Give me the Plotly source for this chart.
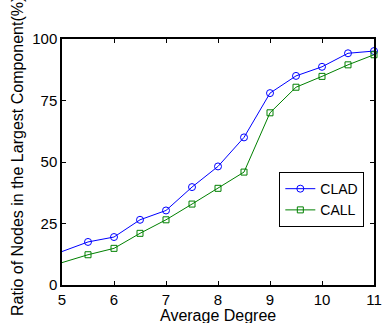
import plotly.graph_objects as go

degree = [5, 5.5, 6, 6.5, 7, 7.5, 8, 8.5, 9, 9.5, 10, 10.5, 11]
clad = [13.6, 17.5, 19.5, 26.5, 30.3, 39.8, 48.2, 60.0, 78.0, 85.0, 88.7, 94.2, 95.1]
call = [9.1, 12.3, 14.9, 21.0, 26.5, 32.9, 39.3, 45.9, 70.0, 80.4, 84.8, 89.5, 93.6]
x_ticks = [5, 6, 7, 8, 9, 10, 11]
y_ticks = [0, 25, 50, 75, 100]

fig = go.Figure()
fig.add_trace(go.Scatter(
    x=degree[1:], y=clad[1:], mode="lines+markers", name="CLAD",
    line=dict(color="#0000FF", width=1),
    marker=dict(symbol="circle-open", size=7, color="#0000FF", line=dict(width=1)),
    cliponaxis=False, showlegend=True,
))
fig.add_trace(go.Scatter(
    x=degree[1:], y=call[1:], mode="lines+markers", name="CALL",
    line=dict(color="#008000", width=1),
    marker=dict(symbol="square-open", size=6, color="#008000", line=dict(width=1)),
    cliponaxis=False, showlegend=True,
))
# segments from x=5 (first point drawn without marker)
fig.add_trace(go.Scatter(x=degree[:2], y=clad[:2], mode="lines",
                         line=dict(color="#0000FF", width=1), showlegend=False))
fig.add_trace(go.Scatter(x=degree[:2], y=call[:2], mode="lines",
                         line=dict(color="#008000", width=1), showlegend=False))

axis_common = dict(
    showgrid=False, zeroline=False, showline=True, linecolor="black", linewidth=1.5,
    mirror="ticks", ticks="inside", ticklen=4, tickwidth=1, tickcolor="black",
    tickfont=dict(family="Liberation Sans, Arial", size=15, color="black"),
)

fig.update_xaxes(range=[5, 11], tickvals=x_ticks, ticktext=[str(v) for v in x_ticks],
                 **axis_common)
fig.update_yaxes(range=[0, 100], tickvals=y_ticks, ticktext=[str(v) for v in y_ticks],
                 **axis_common)

fig.update_layout(
    width=389, height=323,
    margin=dict(l=62, r=7, t=39, b=38),
    paper_bgcolor="white", plot_bgcolor="white",
    font=dict(family="Liberation Sans, Arial", size=15, color="black"),
    legend=dict(x=0.969, y=0.459, xanchor="right", yanchor="top",
                bgcolor="white", bordercolor="black", borderwidth=1,
                font=dict(size=14), tracegroupgap=0, itemwidth=30),
    annotations=[
        dict(text="Average Degree", x=0.5, y=0.0, xref="paper", yref="paper",
             xanchor="center", yanchor="top", yshift=-20, showarrow=False,
             font=dict(size=16)),
        dict(text="Ratio of Nodes in the Largest Component(%)", x=0, y=0.5,
             xref="paper", yref="paper", xanchor="center", yanchor="middle",
             xshift=-45, yshift=5, textangle=-90, showarrow=False,
             font=dict(size=16)),
    ],
)

fig.write_html("out.html", config={"displayModeBar": False},
               post_script="document.body.style.margin='0';")
